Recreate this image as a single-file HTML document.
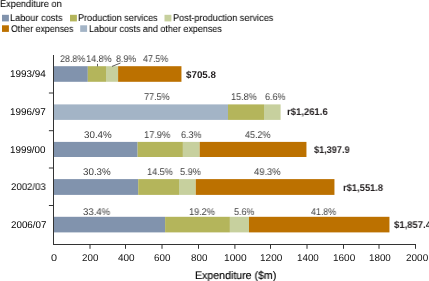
<!DOCTYPE html>
<html><head><meta charset="utf-8"><style>
html,body{margin:0;padding:0;background:#fff;}
body{width:429px;height:281px;position:relative;overflow:hidden;font-family:"Liberation Sans",sans-serif;}
svg{position:absolute;left:0;top:0;}
.t{position:absolute;white-space:nowrap;transform-origin:0 0;will-change:transform;text-rendering:geometricPrecision;font-family:"Liberation Sans",sans-serif;}
</style></head><body>
<svg width="429" height="281" viewBox="0 0 429 281">
<rect x="53.5" y="66.20" width="34.30" height="15.60" fill="#8193ad"/>
<rect x="87.8" y="66.20" width="18.20" height="15.60" fill="#b4b55b"/>
<rect x="106.0" y="66.20" width="12.10" height="15.60" fill="#c7d09e"/>
<rect x="118.1" y="66.20" width="63.35" height="15.60" fill="#bc7100"/>
<rect x="53.5" y="104.40" width="174.50" height="15.50" fill="#a3b4c6"/>
<rect x="228.0" y="104.40" width="36.00" height="15.50" fill="#b4b55b"/>
<rect x="264.0" y="104.40" width="16.60" height="15.50" fill="#c7d09e"/>
<rect x="53.5" y="141.90" width="84.10" height="15.10" fill="#8193ad"/>
<rect x="137.6" y="141.90" width="45.30" height="15.10" fill="#b4b55b"/>
<rect x="182.9" y="141.90" width="16.80" height="15.10" fill="#c7d09e"/>
<rect x="199.7" y="141.90" width="106.75" height="15.10" fill="#bc7100"/>
<rect x="53.5" y="179.10" width="84.70" height="15.80" fill="#8193ad"/>
<rect x="138.2" y="179.10" width="40.80" height="15.80" fill="#b4b55b"/>
<rect x="179.0" y="179.10" width="16.80" height="15.80" fill="#c7d09e"/>
<rect x="195.8" y="179.10" width="138.65" height="15.80" fill="#bc7100"/>
<rect x="53.5" y="216.80" width="111.60" height="15.60" fill="#8193ad"/>
<rect x="165.1" y="216.80" width="64.80" height="15.60" fill="#b4b55b"/>
<rect x="229.9" y="216.80" width="19.10" height="15.60" fill="#c7d09e"/>
<rect x="249.0" y="216.80" width="140.45" height="15.60" fill="#bc7100"/>
<line x1="53.5" y1="55" x2="53.5" y2="244.5" stroke="#333333" stroke-width="1"/>
<line x1="53" y1="244.5" x2="416" y2="244.5" stroke="#333333" stroke-width="1"/>
<line x1="90.00" y1="244.5" x2="90.00" y2="248.8" stroke="#333333" stroke-width="1"/>
<line x1="125.50" y1="244.5" x2="125.50" y2="248.8" stroke="#333333" stroke-width="1"/>
<line x1="162.00" y1="244.5" x2="162.00" y2="248.8" stroke="#333333" stroke-width="1"/>
<line x1="198.50" y1="244.5" x2="198.50" y2="248.8" stroke="#333333" stroke-width="1"/>
<line x1="234.90" y1="244.5" x2="234.90" y2="248.8" stroke="#333333" stroke-width="1"/>
<line x1="270.50" y1="244.5" x2="270.50" y2="248.8" stroke="#333333" stroke-width="1"/>
<line x1="307.00" y1="244.5" x2="307.00" y2="248.8" stroke="#333333" stroke-width="1"/>
<line x1="343.50" y1="244.5" x2="343.50" y2="248.8" stroke="#333333" stroke-width="1"/>
<line x1="379.00" y1="244.5" x2="379.00" y2="248.8" stroke="#333333" stroke-width="1"/>
<line x1="415.50" y1="244.5" x2="415.50" y2="248.8" stroke="#333333" stroke-width="1"/>
<line x1="48.9" y1="93.00" x2="53.5" y2="93.00" stroke="#333333" stroke-width="1"/>
<line x1="48.9" y1="130.70" x2="53.5" y2="130.70" stroke="#333333" stroke-width="1"/>
<line x1="48.9" y1="168.00" x2="53.5" y2="168.00" stroke="#333333" stroke-width="1"/>
<line x1="48.9" y1="205.50" x2="53.5" y2="205.50" stroke="#333333" stroke-width="1"/>
<line x1="97.5" y1="63.8" x2="97.5" y2="66.4" stroke="#333333" stroke-width="0.8"/>
<line x1="112" y1="66.4" x2="120.5" y2="63" stroke="#333333" stroke-width="0.8"/>
<rect x="2" y="14.8" width="6.9" height="6.6" fill="#8193ad"/>
<rect x="70" y="14.8" width="6.9" height="6.6" fill="#b4b55b"/>
<rect x="164.5" y="14.8" width="6.9" height="6.6" fill="#c7d09e"/>
<rect x="2" y="25.3" width="6.9" height="6.6" fill="#bc7100"/>
<rect x="80.2" y="25.3" width="6.9" height="6.6" fill="#a3b4c6"/>
</svg>
<div class="t" style="left:-0.02px;top:0px;font-size:9.8px;line-height:9.8px;font-weight:400;color:#000;-webkit-text-stroke:0.05px #000;transform:scaleX(0.9358)">Expenditure on</div>
<div class="t" style="left:10.18px;top:14px;font-size:9.8px;line-height:9.8px;font-weight:400;color:#000;-webkit-text-stroke:0.05px #000;transform:scaleX(0.9350)">Labour costs</div>
<div class="t" style="left:77.83px;top:14px;font-size:9.8px;line-height:9.8px;font-weight:400;color:#000;-webkit-text-stroke:0.05px #000;transform:scaleX(0.9314)">Production services</div>
<div class="t" style="left:172.83px;top:14px;font-size:9.8px;line-height:9.8px;font-weight:400;color:#000;-webkit-text-stroke:0.05px #000;transform:scaleX(0.9356)">Post-production services</div>
<div class="t" style="left:10.76px;top:25px;font-size:9.8px;line-height:9.8px;font-weight:400;color:#000;-webkit-text-stroke:0.05px #000;transform:scaleX(0.9025)">Other expenses</div>
<div class="t" style="left:88.90px;top:25px;font-size:9.8px;line-height:9.8px;font-weight:400;color:#000;-webkit-text-stroke:0.05px #000;transform:scaleX(0.9162)">Labour costs and other expenses</div>
<div class="t" style="left:9.92px;top:70px;font-size:9.8px;line-height:9.8px;font-weight:400;color:#000;-webkit-text-stroke:0px #000;transform:scaleX(1.0111)">1993/94</div>
<div class="t" style="left:9.92px;top:108px;font-size:9.8px;line-height:9.8px;font-weight:400;color:#000;-webkit-text-stroke:0px #000;transform:scaleX(1.0080)">1996/97</div>
<div class="t" style="left:9.93px;top:146px;font-size:9.8px;line-height:9.8px;font-weight:400;color:#000;-webkit-text-stroke:0px #000;transform:scaleX(1.0036)">1999/00</div>
<div class="t" style="left:10.64px;top:183px;font-size:9.8px;line-height:9.8px;font-weight:400;color:#000;-webkit-text-stroke:0px #000;transform:scaleX(0.9814)">2002/03</div>
<div class="t" style="left:10.64px;top:221px;font-size:9.8px;line-height:9.8px;font-weight:400;color:#000;-webkit-text-stroke:0px #000;transform:scaleX(0.9874)">2006/07</div>
<div class="t" style="left:59.68px;top:55px;font-size:9.8px;line-height:9.8px;font-weight:400;color:#3b3b3b;-webkit-text-stroke:0px #3b3b3b;transform:scaleX(0.9104)">28.8%</div>
<div class="t" style="left:85.83px;top:55px;font-size:9.8px;line-height:9.8px;font-weight:400;color:#3b3b3b;-webkit-text-stroke:0px #3b3b3b;transform:scaleX(0.9236)">14.8%</div>
<div class="t" style="left:115.55px;top:55px;font-size:9.8px;line-height:9.8px;font-weight:400;color:#3b3b3b;-webkit-text-stroke:0px #3b3b3b;transform:scaleX(0.9018)">8.9%</div>
<div class="t" style="left:142.51px;top:55px;font-size:9.8px;line-height:9.8px;font-weight:400;color:#3b3b3b;-webkit-text-stroke:0px #3b3b3b;transform:scaleX(0.9095)">47.5%</div>
<div class="t" style="left:143.73px;top:93px;font-size:9.8px;line-height:9.8px;font-weight:400;color:#3b3b3b;-webkit-text-stroke:0px #3b3b3b;transform:scaleX(0.9236)">77.5%</div>
<div class="t" style="left:230.82px;top:93px;font-size:9.8px;line-height:9.8px;font-weight:400;color:#3b3b3b;-webkit-text-stroke:0px #3b3b3b;transform:scaleX(0.9315)">15.8%</div>
<div class="t" style="left:264.70px;top:93px;font-size:9.8px;line-height:9.8px;font-weight:400;color:#3b3b3b;-webkit-text-stroke:0px #3b3b3b;transform:scaleX(0.9182)">6.6%</div>
<div class="t" style="left:83.59px;top:131px;font-size:9.8px;line-height:9.8px;font-weight:400;color:#3b3b3b;-webkit-text-stroke:0px #3b3b3b;transform:scaleX(0.9889)">30.4%</div>
<div class="t" style="left:144.40px;top:131px;font-size:9.8px;line-height:9.8px;font-weight:400;color:#3b3b3b;-webkit-text-stroke:0px #3b3b3b;transform:scaleX(0.9472)">17.9%</div>
<div class="t" style="left:180.50px;top:131px;font-size:9.8px;line-height:9.8px;font-weight:400;color:#3b3b3b;-webkit-text-stroke:0px #3b3b3b;transform:scaleX(0.9182)">6.3%</div>
<div class="t" style="left:245.40px;top:131px;font-size:9.8px;line-height:9.8px;font-weight:400;color:#3b3b3b;-webkit-text-stroke:0px #3b3b3b;transform:scaleX(0.9209)">45.2%</div>
<div class="t" style="left:83.19px;top:168px;font-size:9.8px;line-height:9.8px;font-weight:400;color:#3b3b3b;-webkit-text-stroke:0px #3b3b3b;transform:scaleX(0.9889)">30.3%</div>
<div class="t" style="left:146.82px;top:168px;font-size:9.8px;line-height:9.8px;font-weight:400;color:#3b3b3b;-webkit-text-stroke:0px #3b3b3b;transform:scaleX(0.9315)">14.5%</div>
<div class="t" style="left:180.15px;top:168px;font-size:9.8px;line-height:9.8px;font-weight:400;color:#3b3b3b;-webkit-text-stroke:0px #3b3b3b;transform:scaleX(0.9343)">5.9%</div>
<div class="t" style="left:254.39px;top:168px;font-size:9.8px;line-height:9.8px;font-weight:400;color:#3b3b3b;-webkit-text-stroke:0px #3b3b3b;transform:scaleX(0.9590)">49.3%</div>
<div class="t" style="left:83.20px;top:208px;font-size:9.8px;line-height:9.8px;font-weight:400;color:#3b3b3b;-webkit-text-stroke:0px #3b3b3b;transform:scaleX(0.9771)">33.4%</div>
<div class="t" style="left:189.02px;top:208px;font-size:9.8px;line-height:9.8px;font-weight:400;color:#3b3b3b;-webkit-text-stroke:0px #3b3b3b;transform:scaleX(0.9354)">19.2%</div>
<div class="t" style="left:233.87px;top:208px;font-size:9.8px;line-height:9.8px;font-weight:400;color:#3b3b3b;-webkit-text-stroke:0px #3b3b3b;transform:scaleX(0.9147)">5.6%</div>
<div class="t" style="left:310.81px;top:208px;font-size:9.8px;line-height:9.8px;font-weight:400;color:#3b3b3b;-webkit-text-stroke:0px #3b3b3b;transform:scaleX(0.9057)">41.8%</div>
<div class="t" style="left:185.97px;top:71px;font-size:9.8px;line-height:9.8px;font-weight:700;color:#231f20;-webkit-text-stroke:0px #231f20;transform:scaleX(0.9908)">$705.8</div>
<div class="t" style="left:286.83px;top:108px;font-size:9.8px;line-height:9.8px;font-weight:700;color:#231f20;-webkit-text-stroke:0px #231f20;transform:scaleX(0.9699)">r$1,261.6</div>
<div class="t" style="left:313.79px;top:146px;font-size:9.8px;line-height:9.8px;font-weight:700;color:#231f20;-webkit-text-stroke:0px #231f20;transform:scaleX(0.9322)">$1,397.9</div>
<div class="t" style="left:343.14px;top:184px;font-size:9.8px;line-height:9.8px;font-weight:700;color:#231f20;-webkit-text-stroke:0px #231f20;transform:scaleX(0.9554)">r$1,551.8</div>
<div class="t" style="left:393.67px;top:221px;font-size:9.8px;line-height:9.8px;font-weight:700;color:#231f20;-webkit-text-stroke:0px #231f20;transform:scaleX(0.9692)">$1,857.4</div>
<div class="t" style="left:50.54px;top:254px;font-size:9.8px;line-height:9.8px;font-weight:400;color:#111;-webkit-text-stroke:0px #111;transform:scaleX(1.1067)">0</div>
<div class="t" style="left:82.35px;top:254px;font-size:9.8px;line-height:9.8px;font-weight:400;color:#111;-webkit-text-stroke:0px #111;transform:scaleX(0.9752)">200</div>
<div class="t" style="left:117.96px;top:254px;font-size:9.8px;line-height:9.8px;font-weight:400;color:#111;-webkit-text-stroke:0px #111;transform:scaleX(1.0184)">400</div>
<div class="t" style="left:154.35px;top:254px;font-size:9.8px;line-height:9.8px;font-weight:400;color:#111;-webkit-text-stroke:0px #111;transform:scaleX(1.0064)">600</div>
<div class="t" style="left:190.81px;top:254px;font-size:9.8px;line-height:9.8px;font-weight:400;color:#111;-webkit-text-stroke:0px #111;transform:scaleX(0.9966)">800</div>
<div class="t" style="left:224.28px;top:254px;font-size:9.8px;line-height:9.8px;font-weight:400;color:#111;-webkit-text-stroke:0px #111;transform:scaleX(1.0382)">1000</div>
<div class="t" style="left:259.80px;top:254px;font-size:9.8px;line-height:9.8px;font-weight:400;color:#111;-webkit-text-stroke:0px #111;transform:scaleX(1.0229)">1200</div>
<div class="t" style="left:296.64px;top:254px;font-size:9.8px;line-height:9.8px;font-weight:400;color:#111;-webkit-text-stroke:0px #111;transform:scaleX(0.9973)">1400</div>
<div class="t" style="left:332.91px;top:254px;font-size:9.8px;line-height:9.8px;font-weight:400;color:#111;-webkit-text-stroke:0px #111;transform:scaleX(1.0177)">1600</div>
<div class="t" style="left:368.85px;top:254px;font-size:9.8px;line-height:9.8px;font-weight:400;color:#111;-webkit-text-stroke:0px #111;transform:scaleX(0.9871)">1800</div>
<div class="t" style="left:406.12px;top:254px;font-size:9.8px;line-height:9.8px;font-weight:400;color:#111;-webkit-text-stroke:0px #111;transform:scaleX(1.0172)">2000</div>
<div class="t" style="left:194.71px;top:271px;font-size:11px;line-height:11px;font-weight:400;color:#000;-webkit-text-stroke:0.15px #000;transform:scaleX(0.9637)">Expenditure ($m)</div>
</body></html>
